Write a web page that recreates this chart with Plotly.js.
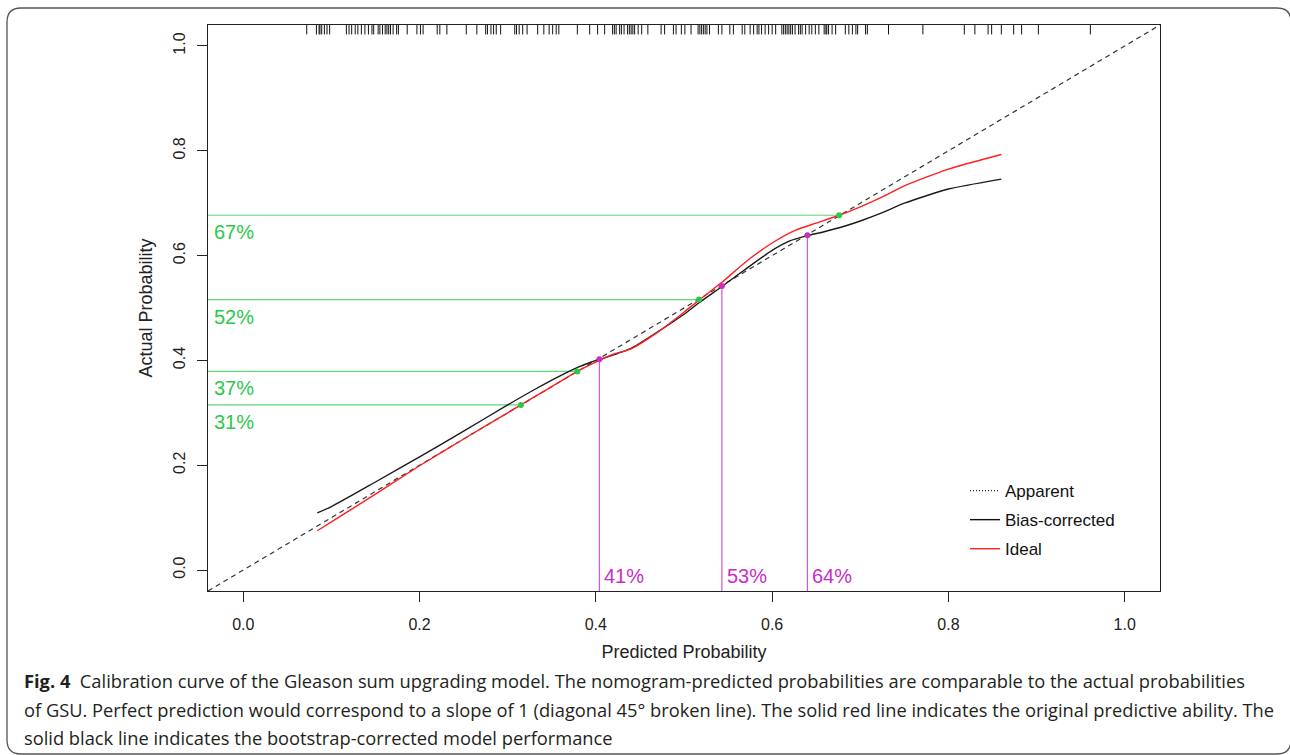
<!DOCTYPE html>
<html>
<head>
<meta charset="utf-8">
<script src="https://cdn.plot.ly/plotly-3.0.1.min.js"></script>
<style>
html,body{margin:0;padding:0;background:#fff;}
#chart{width:1290px;height:755px;}
</style>
</head>
<body>
<div id="chart"></div>
<script>
// ---------- data ----------
const xTickVals = [0, 0.2, 0.4, 0.6, 0.8, 1.0];
const xTickText = ['0.0', '0.2', '0.4', '0.6', '0.8', '1.0'];
const yTickVals = [0, 0.2, 0.4, 0.6, 0.8, 1.0];
const yTickText = ['0.0', '0.2', '0.4', '0.6', '0.8', '1.0'];

const diagX = [-0.04, 1.04];
const diagY = [-0.04, 1.04];

// red curve (legend: Ideal)
const redX = [0.084, 0.10, 0.15, 0.20, 0.25, 0.30, 0.35, 0.38, 0.404, 0.42, 0.44, 0.467, 0.50, 0.517, 0.543, 0.573, 0.60, 0.626, 0.65, 0.676, 0.70, 0.725, 0.75, 0.80, 0.86];
const redY = [0.075, 0.092, 0.145, 0.199, 0.250, 0.300, 0.350, 0.380, 0.400, 0.412, 0.422, 0.450, 0.492, 0.515, 0.549, 0.592, 0.624, 0.648, 0.662, 0.677, 0.693, 0.712, 0.733, 0.765, 0.793];

// black curve (legend: Bias-corrected)
const blackX = [0.084, 0.10, 0.15, 0.20, 0.25, 0.30, 0.33, 0.36, 0.38, 0.395, 0.41, 0.44, 0.467, 0.50, 0.517, 0.543, 0.573, 0.60, 0.62, 0.64, 0.66, 0.68, 0.70, 0.725, 0.75, 0.80, 0.86];
const blackY = [0.109, 0.121, 0.168, 0.216, 0.265, 0.315, 0.344, 0.371, 0.387, 0.397, 0.405, 0.423, 0.451, 0.488, 0.510, 0.541, 0.578, 0.610, 0.628, 0.638, 0.646, 0.655, 0.666, 0.682, 0.700, 0.727, 0.746];

// green reference levels (actual probability)
const greenX = [0.676, 0.517, 0.379, 0.315];
const greenY = [0.677, 0.516, 0.379, 0.315];
const greenLabels = ['67%', '52%', '37%', '31%'];

// magenta reference levels (predicted probability)
const magX = [0.404, 0.543, 0.640];
const magY = [0.402, 0.542, 0.639];
const magLabels = ['41%', '53%', '64%'];

// rug of predicted probabilities (top)
const rugX = [0.072, 0.083, 0.086, 0.087, 0.089, 0.092, 0.095, 0.098, 0.117, 0.120, 0.123, 0.127, 0.130, 0.134, 0.138, 0.142, 0.146, 0.148, 0.153, 0.155, 0.158, 0.161, 0.163, 0.165, 0.167, 0.170, 0.174, 0.176, 0.186, 0.197, 0.201, 0.204, 0.220, 0.223, 0.231, 0.253, 0.265, 0.275, 0.277, 0.281, 0.284, 0.287, 0.292, 0.308, 0.310, 0.313, 0.317, 0.322, 0.334, 0.341, 0.347, 0.351, 0.355, 0.358, 0.379, 0.393, 0.402, 0.410, 0.419, 0.421, 0.423, 0.427, 0.429, 0.432, 0.436, 0.438, 0.440, 0.442, 0.444, 0.448, 0.452, 0.459, 0.474, 0.478, 0.488, 0.491, 0.497, 0.501, 0.508, 0.516, 0.518, 0.520, 0.522, 0.524, 0.526, 0.529, 0.539, 0.543, 0.552, 0.556, 0.566, 0.569, 0.575, 0.579, 0.583, 0.585, 0.588, 0.592, 0.596, 0.600, 0.604, 0.611, 0.613, 0.615, 0.617, 0.619, 0.621, 0.623, 0.626, 0.630, 0.632, 0.634, 0.638, 0.642, 0.645, 0.649, 0.653, 0.659, 0.661, 0.662, 0.664, 0.668, 0.672, 0.683, 0.687, 0.691, 0.695, 0.697, 0.706, 0.708, 0.732, 0.771, 0.818, 0.830, 0.845, 0.849, 0.860, 0.874, 0.883, 0.902, 0.961];

const legendNames = ['Apparent', 'Bias-corrected', 'Ideal'];

const captionLines = [
  '<b>Fig. 4</b>\u00a0\u00a0Calibration curve of the Gleason sum upgrading model. The nomogram-predicted probabilities are comparable to the actual probabilities',
  'of GSU. Perfect prediction would correspond to a slope of 1 (diagonal 45° broken line). The solid red line indicates the original predictive ability. The',
  'solid black line indicates the bootstrap-corrected model performance'
];

// ---------- styles / geometry ----------
const W = 1290, H = 755;
const M = {l: 208, r: 130, t: 25, b: 164};
const PW = W - M.l - M.r, PH = H - M.t - M.b;
const XR = [-0.04, 1.04], YR = [-0.04, 1.04];
const px2pxp = px => (px - M.l) / PW;          // pixel -> paper x
const py2pyp = py => (H - M.b - py) / PH;      // pixel -> paper y

const GREEN_LINE = 'rgb(95,215,115)';
const GREEN_TXT = 'rgb(45,200,75)';
const MAG_LINE = 'rgb(215,85,215)';
const MAG_TXT = 'rgb(200,45,200)';
const AX = '#222';
const FONT = 'Liberation Sans, Arial, sans-serif';

const traces = [];

// rug
const rx = [], ry = [];
rugX.forEach(v => { rx.push(v, v, null); ry.push(YR[1], YR[1] - 0.018, null); });
traces.push({x: rx, y: ry, mode: 'lines', line: {color: '#111', width: 1}, showlegend: false, hoverinfo: 'skip'});

// green horizontals
greenX.forEach((gx, i) => {
  traces.push({x: [XR[0], gx], y: [greenY[i], greenY[i]], mode: 'lines', line: {color: GREEN_LINE, width: 1.2}, showlegend: false, hoverinfo: 'skip'});
});
// magenta verticals
magX.forEach((mx, i) => {
  traces.push({x: [mx, mx], y: [YR[0], magY[i]], mode: 'lines', line: {color: MAG_LINE, width: 1.2}, showlegend: false, hoverinfo: 'skip'});
});

// diagonal
traces.push({x: diagX, y: diagY, mode: 'lines', line: {color: '#333', width: 1.2, dash: '5px,4px'}, showlegend: false, hoverinfo: 'skip'});

// curves
traces.push({x: blackX, y: blackY, mode: 'lines', line: {color: '#1a1a1a', width: 1.4, shape: 'spline', smoothing: 0.6}, showlegend: false});
traces.push({x: redX, y: redY, mode: 'lines', line: {color: '#ff2020', width: 1.4, shape: 'spline', smoothing: 0.6}, showlegend: false});

// dots
traces.push({x: greenX, y: greenY, mode: 'markers', marker: {color: GREEN_TXT, size: 6}, showlegend: false});
traces.push({x: magX, y: magY, mode: 'markers', marker: {color: MAG_TXT, size: 6}, showlegend: false});

// legend entries
const legendStyles = [
  {color: '#222', width: 1.2, dash: '1px,2px'},
  {color: '#111', width: 1.4},
  {color: '#ff2020', width: 1.4}
];
legendNames.forEach((n, i) => {
  traces.push({x: [null], y: [null], mode: 'lines', name: n, line: legendStyles[i], legendgroup: 'g' + i, showlegend: true});
});

// annotations
const annotations = [];
greenLabels.forEach((t, i) => {
  annotations.push({x: XR[0], y: greenY[i], xref: 'x', yref: 'y', text: t, showarrow: false,
    xanchor: 'left', yanchor: 'middle', xshift: 4, yshift: -17, font: {family: FONT, size: 20, color: GREEN_TXT}});
});
magLabels.forEach((t, i) => {
  annotations.push({x: magX[i], y: YR[0], xref: 'x', yref: 'y', text: t, showarrow: false,
    xanchor: 'left', yanchor: 'middle', xshift: 3, yshift: 15, font: {family: FONT, size: 20, color: MAG_TXT}});
});
const capY = [680, 709, 737];
captionLines.forEach((t, i) => {
  annotations.push({x: px2pxp(22), y: py2pyp(capY[i]), xref: 'paper', yref: 'paper', text: t, showarrow: false,
    xanchor: 'left', yanchor: 'middle', font: {family: 'Open Sans, Noto Sans, sans-serif', size: 18.3, color: '#231f20'}});
});

// outer rounded frame
function framePath() {
  const L = px2pxp(7), R = px2pxp(1291), T = py2pyp(8), B = py2pyp(754);
  const rx = 14 / PW, ry = 14 / PH;
  return `M ${L},${B + ry} L ${L},${T - ry} Q ${L},${T} ${L + rx},${T} L ${R - rx},${T} Q ${R},${T} ${R},${T - ry} L ${R},${B + ry} Q ${R},${B} ${R - rx},${B} L ${L + rx},${B} Q ${L},${B} ${L},${B + ry} Z`;
}

const layout = {
  width: W, height: H,
  margin: M,
  paper_bgcolor: '#fff', plot_bgcolor: '#fff',
  font: {family: FONT, color: AX},
  showlegend: true,
  legend: {x: px2pxp(965), y: py2pyp(473), xanchor: 'left', yanchor: 'top',
    bgcolor: 'rgba(0,0,0,0)', borderwidth: 0, tracegroupgap: 4,
    font: {family: FONT, size: 17, color: '#111'}},
  xaxis: {
    range: XR, tickvals: xTickVals, ticktext: xTickText,
    ticks: 'outside', ticklen: 10, tickcolor: AX, tickwidth: 1,
    showline: true, linecolor: AX, linewidth: 1, mirror: true,
    showgrid: false, zeroline: false, ticklabelstandoff: 9,
    tickfont: {family: FONT, size: 16, color: AX},
    title: {text: 'Predicted Probability', font: {family: FONT, size: 18, color: AX}, standoff: 13}
  },
  yaxis: {
    range: YR, tickvals: yTickVals, ticktext: yTickText, tickangle: -90,
    ticks: 'outside', ticklen: 10, tickcolor: AX, tickwidth: 1,
    showline: true, linecolor: AX, linewidth: 1, mirror: true,
    showgrid: false, zeroline: false, ticklabelstandoff: 6,
    tickfont: {family: FONT, size: 16, color: AX},
    title: {text: 'Actual Probability', font: {family: FONT, size: 18, color: AX}, standoff: 13}
  },
  annotations: annotations,
  shapes: [{type: 'path', xref: 'paper', yref: 'paper', path: framePath(), line: {color: '#555', width: 1.3}, layer: 'below'}]
};

Plotly.newPlot('chart', traces, layout, {displayModeBar: false, staticPlot: true});
</script>
</body>
</html>
